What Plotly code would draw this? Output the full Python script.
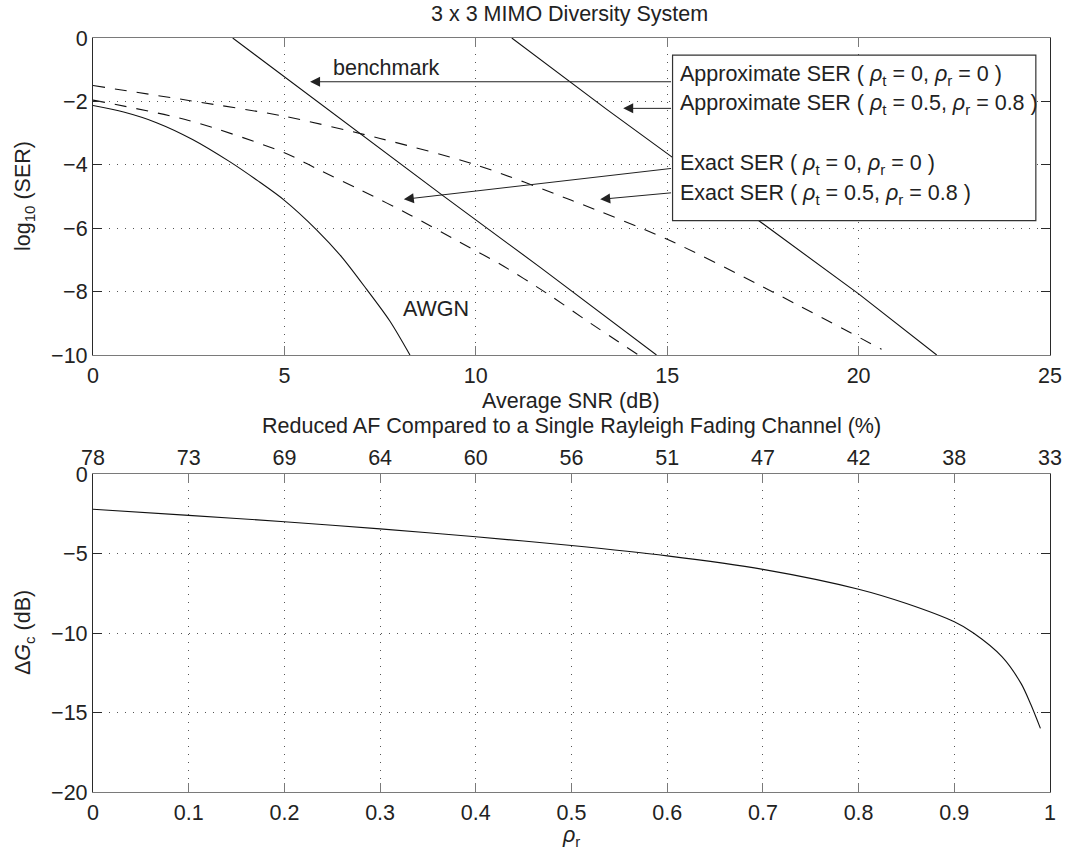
import plotly.graph_objects as go

# ---------------- data ----------------
# Top panel: log10(SER) versus average SNR (dB)
snr_awgn = [0, 0.8, 1.66, 2.6, 3.57, 4.3, 5, 5.84, 6.5, 7.15, 7.75, 8.28]
ser_awgn = [-2.13, -2.335, -2.67, -3.2, -3.9, -4.5, -5.12, -6.05, -6.91, -7.93, -8.92, -10]

snr_exact_0 = [3.65, 6.97, 9.15, 11.7, 14.72]
ser_exact_0 = [0, -3.0, -4.98, -7.25, -10]

snr_approx_0 = [10.94, 13.42, 15.12, 20.01, 22.04]
ser_approx_0 = [0, -2.25, -3.75, -8.08, -10]

snr_dash_upper = [0, 2.5, 5, 7.5, 10, 12.5, 15, 17.5, 20.6]
ser_dash_upper = [-1.5, -1.97, -2.47, -3.17, -4.0, -5.12, -6.35, -7.85, -9.82]

snr_dash_lower = [0, 2.5, 5, 5.84, 7.0, 8.28, 9.58, 10.63, 11.85, 13, 14.25]
ser_dash_lower = [-1.96, -2.6, -3.62, -4.12, -4.8, -5.58, -6.44, -7.13, -8.05, -9.0, -10]

snr_ticks = [0, 5, 10, 15, 20, 25]
ser_ticks = [0, -2, -4, -6, -8, -10]

# Bottom panel: coding-gain loss versus receive correlation
rho_r = [0, 0.1, 0.2, 0.3, 0.4, 0.5, 0.6, 0.7, 0.8, 0.85, 0.9, 0.92, 0.95, 0.97, 0.98, 0.99]
delta_gc = [-2.22, -2.6, -3.0, -3.45, -3.95, -4.5, -5.15, -6.0, -7.25, -8.15, -9.3,
            -10.0, -11.5, -13.2, -14.5, -16.0]

rho_ticks = [0, 0.1, 0.2, 0.3, 0.4, 0.5, 0.6, 0.7, 0.8, 0.9, 1]
rho_tick_text = ["0", "0.1", "0.2", "0.3", "0.4", "0.5", "0.6", "0.7", "0.8", "0.9", "1"]
af_tick_text = ["78", "73", "69", "64", "60", "56", "51", "47", "42", "38", "33"]
gc_ticks = [0, -5, -10, -15, -20]

legend_lines = [
    "Approximate SER ( <i>ρ</i><sub>t</sub> = 0, <i>ρ</i><sub>r</sub> = 0 )",
    "Approximate SER ( <i>ρ</i><sub>t</sub> = 0.5, <i>ρ</i><sub>r</sub> = 0.8 )",
    "Exact SER ( <i>ρ</i><sub>t</sub> = 0, <i>ρ</i><sub>r</sub> = 0 )",
    "Exact SER ( <i>ρ</i><sub>t</sub> = 0.5, <i>ρ</i><sub>r</sub> = 0.8 )",
]

# ---------------- layout helpers ----------------
W, H = 1067, 856
FONT = "Liberation Sans, Arial, Helvetica, sans-serif"
FS = 21.5
TXT = "#222222"


def px_x(p):
    return p / W


def px_y(p):
    return 1 - p / H


BLACK = "#111111"
HLINE = "#7a7a7a"
VLINE = "#2a2a2a"
GRID = "#555555"
DASH = "12px,10px"

fig = go.Figure()

line_curve = dict(color=BLACK, width=1.1, shape="spline", smoothing=0.8)
line_straight = dict(color=BLACK, width=1.1)
line_dash = dict(color=BLACK, width=1.1, dash=DASH, shape="spline", smoothing=0.8)


def add(x, y, line, xa="x", ya="y"):
    fig.add_trace(go.Scatter(x=x, y=y, mode="lines", line=line, xaxis=xa, yaxis=ya,
                             showlegend=False, hoverinfo="skip"))


add(snr_awgn, ser_awgn, line_curve)
add(snr_exact_0, ser_exact_0, line_straight)
add(snr_approx_0, ser_approx_0, line_straight)
add(snr_dash_upper, ser_dash_upper, line_dash)
add(snr_dash_lower, ser_dash_lower, line_dash)
add(rho_r, delta_gc, line_curve, "x2", "y2")
# invisible trace so the top (AF %) axis of the lower panel is drawn
add([rho_ticks[0], rho_ticks[-1]], [None, None], line_straight, "x3", "y2")

tickfont = dict(family=FONT, size=FS, color=TXT)

common_x = dict(showline=True, linecolor=HLINE, linewidth=1.2, mirror="ticks",
                ticks="inside", ticklen=9, tickcolor=HLINE, tickwidth=1.2,
                showgrid=True, gridcolor=GRID, gridwidth=1, griddash="1px,7px",
                zeroline=False, tickfont=tickfont, ticklabelstandoff=1,
                automargin=False)
common_y = dict(showline=True, linecolor=VLINE, linewidth=1.2, mirror="ticks",
                ticks="inside", ticklen=9, tickcolor=VLINE, tickwidth=1.2,
                showgrid=True, gridcolor=GRID, gridwidth=1, griddash="1px,7px",
                zeroline=False, tickfont=tickfont, ticklabelstandoff=0,
                automargin=False)

X0, X1 = 93, 1050
T0, T1 = 38, 355
B0, B1 = 474, 792

fig.update_layout(
    width=W, height=H, autosize=False,
    margin=dict(l=0, r=0, t=0, b=0, pad=0, autoexpand=False),
    showlegend=False,
    paper_bgcolor="white", plot_bgcolor="white",
    font=dict(family=FONT, size=FS, color=TXT),
    xaxis=dict(domain=[px_x(X0), px_x(X1)], anchor="y", range=[0, 25],
               tickvals=snr_ticks, **common_x),
    yaxis=dict(domain=[px_y(T1), px_y(T0)], anchor="x", range=[-10, 0],
               tickvals=ser_ticks, **common_y),
    xaxis2=dict(domain=[px_x(X0), px_x(X1)], anchor="y2", range=[0, 1],
                tickvals=rho_ticks, ticktext=rho_tick_text,
                **{**common_x, "mirror": True}),
    yaxis2=dict(domain=[px_y(B1), px_y(B0)], anchor="x2", range=[-20, 0],
                tickvals=gc_ticks, **common_y),
    xaxis3=dict(overlaying="x2", anchor="y2", side="top", range=[0, 1],
                tickvals=rho_ticks, ticktext=af_tick_text,
                showline=False, ticks="inside", ticklen=9, tickcolor=HLINE,
                tickwidth=1.2, showgrid=False, zeroline=False, tickfont=tickfont,
                ticklabelstandoff=4, automargin=False),
)

# legend box of the upper panel (white, covering lines and grid)
fig.add_shape(type="rect", xref="x", yref="y", x0=15.14, x1=24.63, y0=-5.76, y1=-0.54,
              line=dict(color="#333333", width=1.2), fillcolor="white", layer="above")

ann = []
legend_y = [-1.17, -2.11, -4.0, -4.95]
for txt, yy in zip(legend_lines, legend_y):
    ann.append(dict(x=15.27, y=yy, xref="x", yref="y", text=txt, showarrow=False,
                    xanchor="left", yanchor="middle",
                    font=dict(family=FONT, size=FS, color=TXT)))

arrow_common = dict(showarrow=True, arrowhead=2, arrowsize=2, arrowwidth=1,
                    arrowcolor="#222222", xref="x", yref="y", axref="x", ayref="y",
                    text="", standoff=0, startstandoff=0)
# benchmark arrow
ann.append(dict(x=5.67, y=-1.38, ax=15.14, ay=-1.38, **arrow_common))
# approximate (0.5, 0.8)
ann.append(dict(x=13.85, y=-2.22, ax=15.14, ay=-2.22, **arrow_common))
# exact (0, 0)
ann.append(dict(x=8.12, y=-5.09, ax=15.14, ay=-4.11, **arrow_common))
# exact (0.5, 0.8)
ann.append(dict(x=13.25, y=-5.09, ax=15.14, ay=-4.88, **arrow_common))

ann.append(dict(x=7.68, y=-0.95, xref="x", yref="y", text="benchmark", showarrow=False,
                font=dict(family=FONT, size=FS, color=TXT)))
ann.append(dict(x=8.95, y=-8.55, xref="x", yref="y", text="AWGN", showarrow=False,
                font=dict(family=FONT, size=FS, color=TXT)))


# titles and axis labels
def label(text, xp, yp, angle=0):
    return dict(x=px_x(xp), y=px_y(yp), xref="paper", yref="paper", text=text,
                showarrow=False, xanchor="center", yanchor="middle", textangle=angle,
                font=dict(family=FONT, size=FS, color=TXT))


ann.append(label("3 x 3 MIMO Diversity System", 569, 14))
ann.append(label("Average SNR (dB)", 571, 401))
ann.append(label("log<sub>10</sub> (SER)", 25, 196, -90))
ann.append(label("Reduced AF Compared to a Single Rayleigh Fading Channel (%)", 571, 426))
ann.append(label("Δ<i>G</i><sub>c</sub> (dB)", 24, 633, -90))
ann.append(label("<i>ρ</i><sub>r</sub>", 571, 836))

fig.update_layout(annotations=ann)

fig.write_html(
    "out.html",
    config={"displayModeBar": False},
    post_script="document.body.style.margin='0px';document.body.style.overflow='hidden';",
)
